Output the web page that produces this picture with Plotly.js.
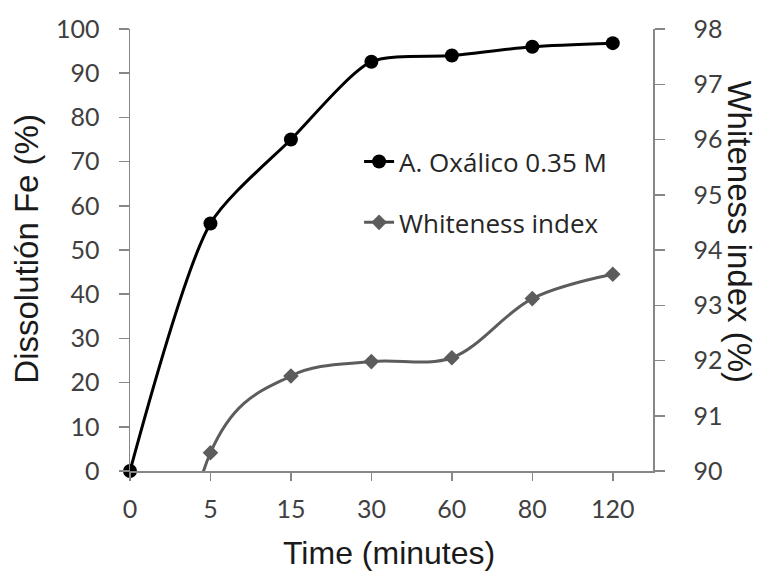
<!DOCTYPE html>
<html>
<head>
<meta charset="utf-8">
<script src="https://cdn.plot.ly/plotly-3.0.1.min.js"></script>
<style>html,body{margin:0;padding:0;background:#fff;}#chart{width:758px;height:572px;}</style>
</head>
<body>
<div id="chart"></div>
<script>
var timeLabels = ["0", "5", "15", "30", "60", "80", "120"];
var feDissolution = [0, 56, 75, 92.6, 94, 96, 96.8];
// whiteness series: the value at time 0 lies far below the axis range (only the clipped steep segment at t=5 shows)
var whitenessTimes = ["0", "5", "15", "30", "60", "80", "120"];
var whitenessIndex = [0, 90.33, 91.72, 91.98, 92.05, 93.12, 93.56];
var leftTicks = [0, 10, 20, 30, 40, 50, 60, 70, 80, 90, 100];
var rightTicks = [90, 91, 92, 93, 94, 95, 96, 97, 98];

var tickFont = {family: "Lato, 'Open Sans', sans-serif", size: 25, color: "#404040"};
var titleFont = {family: "'Liberation Sans', Arial, sans-serif", size: 32, color: "#1a1a1a"};

var traces = [
  {
    x: whitenessTimes, y: whitenessIndex, type: "scatter", mode: "lines+markers",
    name: "Whiteness index", legendgroup: "b", legendrank: 2,
    line: {color: "#5c5c5c", width: 3, shape: "spline", smoothing: 1},
    marker: {symbol: "diamond", size: 12, color: "#5c5c5c"},
    cliponaxis: true, yaxis: "y2"
  },
  {
    x: timeLabels, y: feDissolution, type: "scatter", mode: "lines+markers",
    name: "A. Oxálico 0.35 M", legendgroup: "a", legendrank: 1,
    line: {color: "#000000", width: 3, shape: "spline", smoothing: 0.7},
    marker: {symbol: "circle", size: 14, color: "#000000"},
    cliponaxis: false, yaxis: "y"
  }
];

var layout = {
  width: 758, height: 572,
  margin: {l: 130, r: 105, t: 29, b: 101},
  paper_bgcolor: "#ffffff", plot_bgcolor: "#ffffff",
  showlegend: true,
  legend: {
    x: 0.438, y: 0.753, xanchor: "left", yanchor: "top",
    font: {family: "'Open Sans', sans-serif", size: 26, color: "#262626"},
    bgcolor: "rgba(0,0,0,0)", tracegroupgap: 24
  },
  xaxis: {
    type: "category", categoryorder: "array", categoryarray: timeLabels,
    range: [0, 6.5], showgrid: false, zeroline: false,
    showline: true, linecolor: "#878787", linewidth: 1.5,
    ticks: "outside", ticklen: 8, tickcolor: "#878787", tickwidth: 1.5,
    tickfont: tickFont, ticklabelstandoff: 7
  },
  yaxis: {
    range: [0, 100], tickvals: leftTicks, showgrid: false, zeroline: false,
    showline: true, linecolor: "#878787", linewidth: 1.5,
    ticks: "outside", ticklen: 10, tickcolor: "#878787", tickwidth: 1.5,
    tickfont: tickFont, ticklabelstandoff: 14
  },
  yaxis2: {
    overlaying: "y", side: "right", anchor: "x",
    range: [90, 98], tickvals: rightTicks, showgrid: false, zeroline: false,
    showline: true, linecolor: "#878787", linewidth: 1.5,
    ticks: "outside", ticklen: 10, tickcolor: "#878787", tickwidth: 1.5,
    tickfont: tickFont, ticklabelstandoff: 24
  },
  annotations: [
    {
      text: "Time (minutes)", xref: "paper", yref: "paper",
      x: 0.496, y: -0.185, showarrow: false, font: titleFont,
      xanchor: "center", yanchor: "middle"
    },
    {
      text: "Dissolutión Fe (%)", xref: "paper", yref: "paper",
      x: -0.197, y: 0.503, textangle: -90, showarrow: false,
      font: {family: "'Liberation Sans', Arial, sans-serif", size: 33, color: "#1a1a1a"},
      xanchor: "center", yanchor: "middle"
    },
    {
      text: "Whiteness index (%)", xref: "paper", yref: "paper",
      x: 1, xshift: 87, y: 0.542, textangle: 90, showarrow: false,
      font: {family: "'Liberation Sans', Arial, sans-serif", size: 33, color: "#1a1a1a"},
      xanchor: "center", yanchor: "middle"
    }
  ]
};

Plotly.newPlot("chart", traces, layout, {displayModeBar: false, staticPlot: true});
</script>
</body>
</html>
